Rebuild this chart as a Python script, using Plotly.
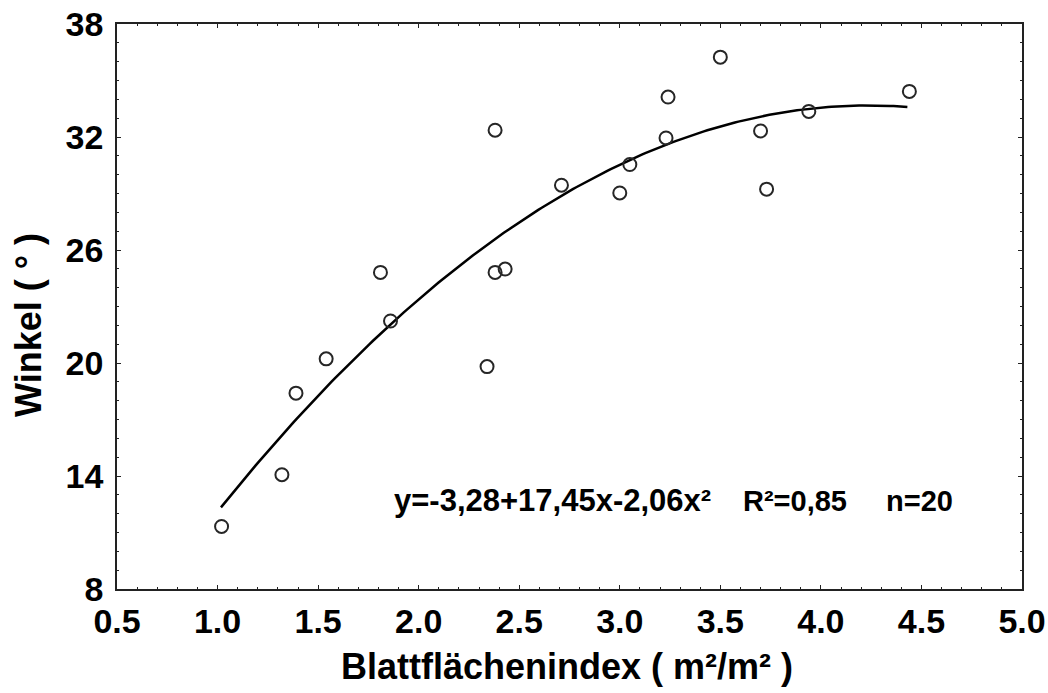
import numpy as np
import plotly.graph_objects as go

# Data
blattflaechenindex = [1.02, 1.32, 1.39, 1.54, 1.81, 1.86, 2.34, 2.38, 2.43, 2.38,
                      2.71, 3.00, 3.05, 3.23, 3.24, 3.50, 3.70, 3.73, 3.94, 4.44]
winkel = [11.32, 14.07, 18.40, 20.22, 24.81, 22.23, 19.81, 24.81, 24.99, 32.36,
          29.44, 29.03, 30.54, 31.95, 34.12, 36.24, 32.32, 29.23, 33.36, 34.42]

# Fitted quadratic stated on the chart: y = a + b x + c x^2
fit_coef = [-3.28, 17.45, -2.06]
fit_label = "y=-3,28+17,45x-2,06x²"
r2_label = "R²=0,85"
n_label = "n=20"

x_ticks = [0.5, 1.0, 1.5, 2.0, 2.5, 3.0, 3.5, 4.0, 4.5, 5.0]
x_ticklabels = ["0.5", "1.0", "1.5", "2.0", "2.5", "3.0", "3.5", "4.0", "4.5", "5.0"]
y_ticks = [8, 14, 20, 26, 32, 38]
y_ticklabels = ["8", "14", "20", "26", "32", "38"]

FONT = "Liberation Sans, Arial, sans-serif"

xf = np.linspace(min(blattflaechenindex) - 0.003, max(blattflaechenindex) - 0.01, 200)
yf = fit_coef[0] + fit_coef[1] * xf + fit_coef[2] * xf ** 2

fig = go.Figure()
fig.add_trace(go.Scatter(
    x=xf, y=yf, mode="lines",
    line=dict(color="black", width=2.5),
    hoverinfo="skip", showlegend=False,
))
fig.add_trace(go.Scatter(
    x=blattflaechenindex, y=winkel, mode="markers",
    marker=dict(symbol="circle-open", size=13, color="#262626",
                line=dict(width=2, color="#262626")),
    showlegend=False,
))

axis_common = dict(
    showgrid=False, zeroline=False, automargin=False,
    showline=True, linecolor="#222", linewidth=1.5,
    mirror="ticks", ticks="inside", ticklen=4, tickwidth=1, tickcolor="#222",
    ticklabeloverflow="allow",
    tickfont=dict(family=FONT, size=34, color="black", weight="bold"),
)

fig.update_xaxes(
    range=[0.5, 5.0], tickmode="array", tickvals=x_ticks, ticktext=x_ticklabels,
    ticklabelstandoff=1,
    minor=dict(ticks="inside", dtick=0.1, ticklen=2, tickwidth=1, tickcolor="#222", showgrid=False),
    **axis_common,
)
fig.update_yaxes(
    range=[8, 38], tickmode="array", tickvals=y_ticks, ticktext=y_ticklabels,
    ticklabelstandoff=5,
    minor=dict(ticks="inside", dtick=1, ticklen=2, tickwidth=1, tickcolor="#222", showgrid=False),
    **axis_common,
)

FW, FH = 1048, 693
L, T = 117, 23.5
R = FW - 1022.5
B = FH - 589.5
W, H = FW - L - R, FH - T - B


def px(xp):
    return (xp - L) / W


def py(yp):
    return (FH - B - yp) / H


for txt, xpos, fs in [(fit_label, 392, 31), (r2_label, 741, 29), (n_label, 884, 29)]:
    fig.add_annotation(x=px(xpos), y=py(501), xref="paper", yref="paper", text=txt,
                       showarrow=False, xanchor="left", yanchor="middle",
                       font=dict(family=FONT, size=fs, color="black", weight="bold"))

fig.add_annotation(x=px(567), y=py(667), xref="paper", yref="paper",
                   text="Blattflächenindex ( m²/m² )", showarrow=False,
                   xanchor="center", yanchor="middle",
                   font=dict(family=FONT, size=36, color="black", weight="bold"))
fig.add_annotation(x=px(29), y=py(325), xref="paper", yref="paper",
                   text="Winkel ( ° )", showarrow=False, textangle=-90,
                   xanchor="center", yanchor="middle",
                   font=dict(family=FONT, size=36, color="black", weight="bold"))

fig.update_layout(
    width=FW, height=FH,
    margin=dict(l=L, r=R, t=T, b=B, autoexpand=False),
    paper_bgcolor="white", plot_bgcolor="white",
    font=dict(family=FONT, color="black"),
)

fig.write_html(
    "out.html",
    config={"displayModeBar": False},
    post_script="document.body.style.margin='0';document.body.style.overflow='hidden';",
)
